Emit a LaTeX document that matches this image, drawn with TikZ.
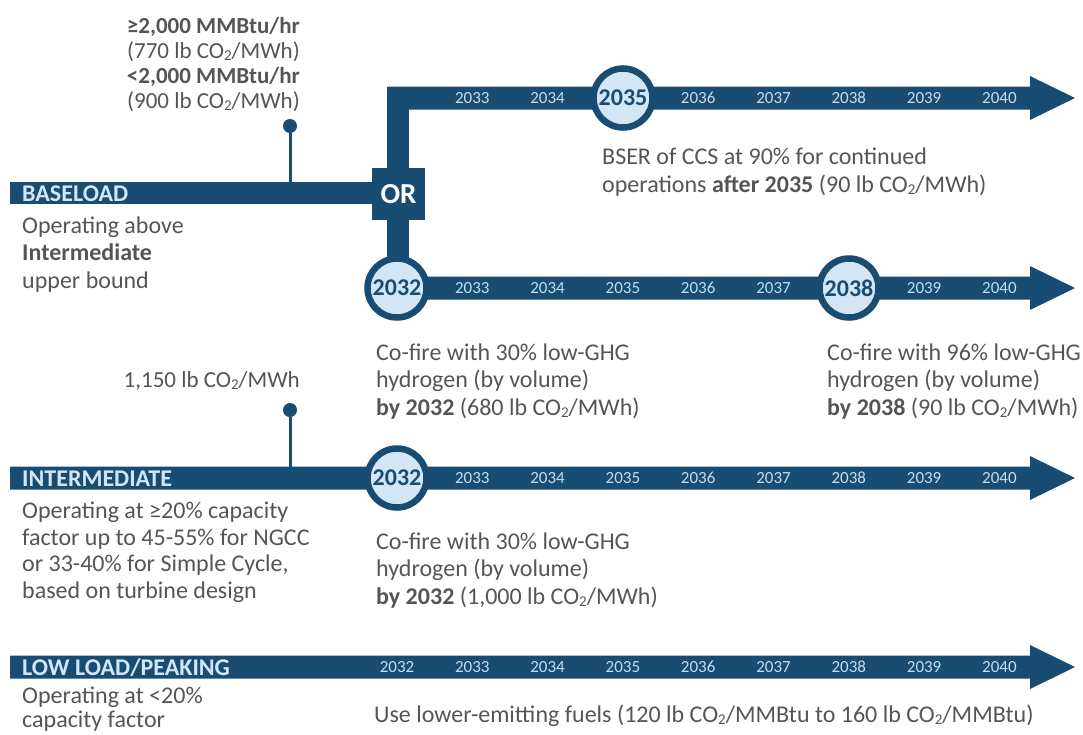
\documentclass[tikz,border=0pt]{standalone}
\usepackage{fontspec}
\setmainfont{Carlito}
\usepackage{tikz}
\usetikzlibrary{positioning,arrows.meta}
\usepackage{xcolor}
\definecolor{navy}{HTML}{184C72}
\definecolor{pale}{HTML}{D3E6F5}
\definecolor{yeartxt}{HTML}{C6DCEE}
\definecolor{txtgray}{HTML}{555555}
\newcommand{\cotwo}{CO\raisebox{-0.25ex}{\fontsize{15}{15}\selectfont 2}}

\begin{document}
\begin{tikzpicture}[x=1pt, y=-1pt,
  body/.style={anchor=base west, align=left, inner sep=0pt, text=txtgray, font=\fontsize{24}{27.5}\selectfont},
  note/.style={body, anchor=base east, align=right, font=\fontsize{23}{25}\selectfont},
  bartitle/.style={anchor=base west, inner sep=0pt, text=pale, font=\bfseries\fontsize{24}{24}\selectfont},
  yr/.style={inner sep=0pt, text=yeartxt, font=\fontsize{17}{17}\selectfont},
  milestone/.style={circle, draw=navy, line width=6.5pt, fill=pale, minimum size=59pt, inner sep=0pt, text=navy, font=\bfseries\fontsize{24}{24}\selectfont},
  orbox/.style={fill=navy, minimum width=53pt, minimum height=52pt, inner sep=0pt, text=white, font=\bfseries\fontsize{29}{29}\selectfont},
  dot/.style={circle, fill=navy, minimum size=14pt, inner sep=0pt},
  stem/.style={draw=navy, line width=3pt}]
\useasboundingbox (0,0) rectangle (1083,734);

% timeline arrows: centre line / left end
\foreach \yc/\xs in {98/387, 288/390, 478/10, 667/10}
  \fill[navy] (\xs,\yc-11.5) -- (1030,\yc-11.5) -- (1030,\yc-22) -- (1075,\yc)
    -- (1030,\yc+22) -- (1030,\yc+11.5) -- (\xs,\yc+11.5) -- cycle;

% baseload bar and fork
\fill[navy] (10,182) rectangle (380,204);
\fill[navy] (387,87) rectangle (409,288);
\node[orbox] (or) at (398.5,194) {OR};

% years
\foreach \yr in {2033,2034,2036,2037,2038,2039,2040}
  \node[yr] (top\yr) at ({397+75.3*(\yr-2032)},98) {\yr};
\foreach \yr in {2033,2034,2035,2036,2037,2039,2040}
  \node[yr] (mid\yr) at ({397+75.3*(\yr-2032)},288) {\yr};
\foreach \yr in {2033,2034,2035,2036,2037,2038,2039,2040}
  \node[yr] (int\yr) at ({397+75.3*(\yr-2032)},478) {\yr};
\foreach \yr in {2032,2033,2034,2035,2036,2037,2038,2039,2040}
  \node[yr] (low\yr) at ({397+75.3*(\yr-2032)},667) {\yr};

\node[milestone] (ccs) at (623,98) {2035};
\node[milestone] (hyd30) at (397,288) {2032};
\node[milestone] (hyd96) at (849,288) {2038};
\node[milestone] (int30) at (397,478) {2032};

% row titles
\node[bartitle] (baseload) at (22,201) {BASELOAD};
\node[bartitle] (intermediate) at (22,486) {INTERMEDIATE};
\node[bartitle] (lowload) at (22,675) {LOW LOAD/PEAKING};

% pins
\node[dot] (bdot) at (290,126) {};
\coordinate (bfoot) at (290,183);
\draw[stem] (bdot) -- (bfoot);
\node[dot] (idot) at (290,410) {};
\coordinate (ifoot) at (290,468);
\draw[stem] (idot) -- (ifoot);

% base anchor = last line
\node[note] (blimits) at (300,108) {\textbf{≥2,000 MMBtu/hr}\\ (770 lb \cotwo/MWh)\\ \textbf{<2,000 MMBtu/hr}\\ (900 lb \cotwo/MWh)};
\node[note] (ilimit) at (300,387) {1,150 lb \cotwo/MWh};

% descriptions
\node[body] (bdesc) at (22,288) {Operating above\\ \textbf{Intermediate}\\ upper bound};
\node[body] (ccsdesc) at (602,192) {BSER of CCS at 90\% for continued\\ operations \textbf{after 2035} (90 lb \cotwo/MWh)};
\node[body] (hyd30desc) at (376,415) {Co-fire with 30\% low-GHG\\ hydrogen (by volume)\\ \textbf{by 2032} (680 lb \cotwo/MWh)};
\node[body] (hyd96desc) at (827,415) {Co-fire with 96\% low-GHG\\ hydrogen (by volume)\\ \textbf{by 2038} (90 lb \cotwo/MWh)};
\node[body, font=\fontsize{24}{26.5}\selectfont] (idesc) at (22,598) {Operating at ≥20\% capacity\\ factor up to 45-55\% for NGCC\\ or 33-40\% for Simple Cycle,\\ based on turbine design};
\node[body] (int30desc) at (376,604) {Co-fire with 30\% low-GHG\\ hydrogen (by volume)\\ \textbf{by 2032} (1,000 lb \cotwo/MWh)};
\node[body, font=\fontsize{24}{24}\selectfont] (ldesc) at (22,727) {Operating at <20\%\\ capacity factor};
\node[body] (fuels) at (374,722) {Use lower-emitting fuels (120 lb \cotwo/MMBtu to 160 lb \cotwo/MMBtu)};
\end{tikzpicture}
\end{document}
